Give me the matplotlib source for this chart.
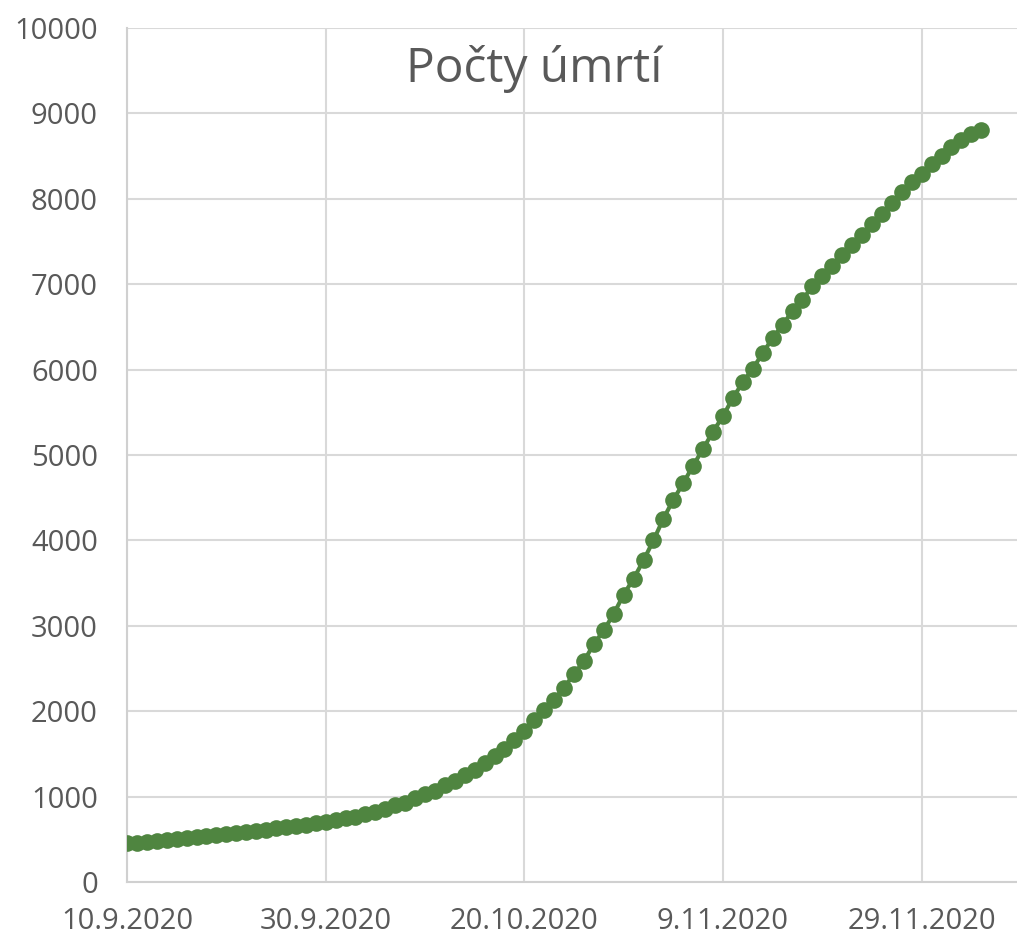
import pandas as pd
import matplotlib.pyplot as plt
from matplotlib.ticker import FuncFormatter, MultipleLocator
import matplotlib.dates as mdates

START = "2020-09-10"
TITLE = "Počty úmrtí"

deaths = [
    452, 460, 470, 480, 490, 502, 514, 525, 537, 546,
    557, 569, 580, 598, 614, 627, 640, 655, 668, 686,
    705, 725, 746, 766, 795, 822, 852, 897, 920, 980,
    1035, 1070, 1131, 1185, 1248, 1310, 1388, 1474, 1556, 1661,
    1770, 1895, 2012, 2137, 2277, 2433, 2588, 2785, 2947, 3140,
    3365, 3552, 3766, 4000, 4254, 4476, 4670, 4877, 5072, 5275,
    5454, 5669, 5852, 6012, 6191, 6371, 6520, 6690, 6819, 6974,
    7099, 7216, 7345, 7462, 7579, 7704, 7821, 7949, 8082, 8191,
    8288, 8405, 8503, 8608, 8690, 8764, 8807,
]
dates = pd.date_range(START, periods=len(deaths), freq="D")
tick_dates = pd.date_range(START, periods=5, freq="20D")

TEXT = "#595959"
GRID = "#d9d9d9"
GREEN = "#4f8540"

plt.rcParams["font.family"] = ["Open Sans", "DejaVu Sans"]


def fmt_date(v, pos):
    d = mdates.num2date(v)
    return f"{d.day}.{d.month}.{d.year}"


fig = plt.figure(figsize=(10.17, 9.40), dpi=100)
ax = fig.add_axes([127 / 1017, 1 - 882 / 940, 1 - 127 / 1017, (882 - 28) / 940])

ax.plot(dates, deaths, color=GREEN, linewidth=3, marker="o",
        markersize=12, markeredgewidth=0, zorder=3)

ax.set_ylim(0, 10000)
ax.yaxis.set_major_locator(MultipleLocator(1000))
x0 = mdates.date2num(pd.Timestamp(START))
ax.set_xlim(x0, x0 + 89.6)
ax.set_xticks(tick_dates)
ax.xaxis.set_major_formatter(FuncFormatter(fmt_date))

ax.grid(True, color=GRID, linewidth=1.5, zorder=0)
for side in ["top", "right"]:
    ax.spines[side].set_visible(False)
for side in ["left", "bottom"]:
    ax.spines[side].set_color("#d0d0d0")
    ax.spines[side].set_linewidth(1.5)

ax.tick_params(axis="both", length=0, labelsize=21, colors=TEXT)
ax.tick_params(axis="y", pad=21)
ax.tick_params(axis="x", pad=18)

ax.text(0.458, 0.952, TITLE, transform=ax.transAxes, ha="center", va="center",
        fontsize=34.5, color=TEXT)

fig.savefig("out.png", dpi=100)
